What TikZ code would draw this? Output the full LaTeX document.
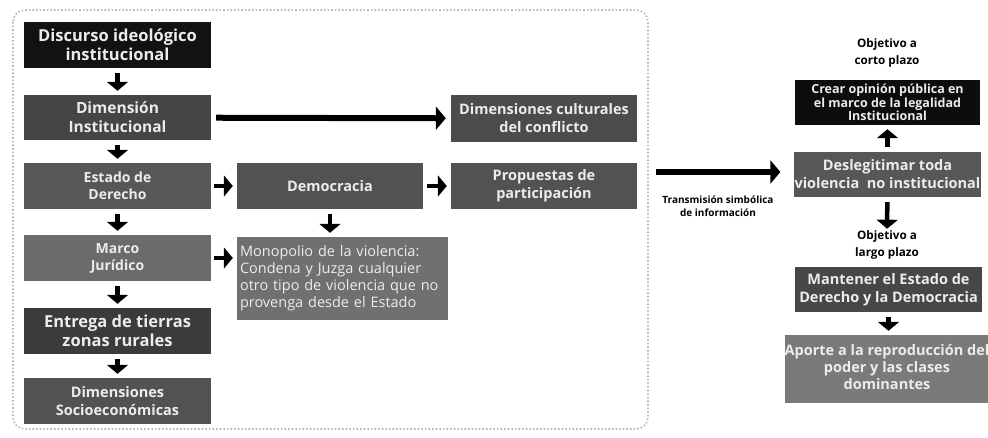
\documentclass[tikz,border=0pt]{standalone}
\usepackage{fontspec}
\setmainfont{Open Sans}
\usetikzlibrary{arrows.meta,positioning}
\definecolor{txt}{HTML}{ECECEC}
\newcommand{\fs}[2]{\fontsize{#1}{#2}\selectfont}
\tikzset{
  bx/.style={rectangle, text=txt, font=\bfseries, align=center, inner sep=1pt, draw=none, minimum width=187pt, minimum height=46pt},
  arr/.style={line width=4.5pt, -{Triangle[width=21pt,length=9pt]}, shorten <=5pt, shorten >=4pt},
  bigarr/.style={line width=6pt, -{Triangle[width=23pt,length=10pt]}},
  lbl/.style={font=\bfseries, text=black, align=center, inner sep=0pt}
}
\begin{document}
\begin{tikzpicture}[x=1pt,y=-1pt]
\useasboundingbox (0,0) rectangle (988,437);
\draw[gray!55, line width=1.6pt, dotted, rounded corners=12pt] (13,10) rectangle (648,429);
% left column
\node[bx, fill=black!93, font=\bfseries\fs{16.5}{19}] (disc) at (117.5,45) {Discurso ideológico\\institucional};
\node[bx, fill=black!73, font=\bfseries\fs{15.5}{19}, minimum height=45pt] (dimi) at (117.5,117.5) {Dimensión\\Institucional};
\node[bx, fill=black!66, font=\bfseries\fs{14}{17}] (est) at (117.5,186) {Estado de\\Derecho};
\node[bx, fill=black!58, font=\bfseries\fs{14}{17}] (marco) at (117.5,258) {Marco\\Jurídico};
\node[bx, fill=black!77, font=\bfseries\fs{16.5}{19}] (entr) at (117.5,331) {Entrega de tierras\\zonas rurales};
\node[bx, fill=black!68, font=\bfseries\fs{14.5}{18}] (dsoc) at (117.5,401) {Dimensiones\\Socioeconómicas};
% middle
\node[bx, fill=black!68, font=\bfseries\fs{14.5}{17}, minimum width=186pt] (demo) at (330,186) {Democracia};
\node[bx, fill=black!56, font=\fs{14.5}{17}, minimum width=211pt, minimum height=83pt, align=left, text width=205pt] (mono) at (342.5,278.5) {Monopolio de la violencia:\\Condena y Juzga cualquier\\otro tipo de violencia que no\\provenga desde el Estado};
\node[bx, fill=black!70, font=\bfseries\fs{14.5}{18}, minimum width=186pt, minimum height=47pt] (cult) at (544,118.5) {Dimensiones culturales\\del conflicto};
\node[bx, fill=black!68, font=\bfseries\fs{14.5}{18}, minimum width=186pt] (prop) at (544,186) {Propuestas de\\participación};
% right
\node[lbl, font=\bfseries\fs{11.7}{16.5}] (obc) at (887,53) {Objetivo a\\corto plazo};
\node[bx, fill=black!95, font=\bfseries\fs{12.5}{13.5}, minimum width=185pt, minimum height=45pt] (crear) at (887.5,102.5) {Crear opinión pública en\\el marco de la legalidad\\Institucional};
\node[bx, fill=black!66, font=\bfseries\fs{14.5}{18}, minimum width=185pt, minimum height=45pt] (desl) at (887.5,174.5) {Deslegitimar toda\\violencia\ \ no institucional};
\node[lbl, font=\bfseries\fs{11.7}{16.5}] (obl) at (887,245) {Objetivo a\\largo plazo};
\node[bx, fill=black!72, font=\bfseries\fs{14.5}{18}, minimum width=187pt, minimum height=45pt] (mant) at (888.5,289.5) {Mantener el Estado de\\Derecho y la Democracia};
\node[bx, fill=black!52, minimum width=215pt, minimum height=68pt] (aport) at (892.5,369) {};
\node[lbl, text=txt, font=\bfseries\fs{14.5}{17}] (aptxt) at (887,367) {Aporte a la reproducción del\\poder y las clases\\dominantes};
\coordinate (ts) at (656,172);
\node[lbl, font=\bfseries\fs{10}{12.5}] (trans) at (718,206) {Transmisión simbólica\\de información};
% arrows
\draw[arr] (disc) -- (dimi);
\draw[arr] (dimi) -- (est);
\draw[arr] (est) -- (marco);
\draw[arr] (marco) -- (entr);
\draw[arr] (entr) -- (dsoc);
\draw[bigarr, shorten <=5pt, shorten >=5pt] (dimi) -- (cult);
\draw[arr, shorten <=3pt] (est) -- (demo);
\draw[arr, shorten <=4pt] (demo) -- (prop);
\draw[arr] (demo.south) -- (demo.south |- mono.north);
\draw[arr, shorten <=3pt] (marco.east) -- (marco.east -| mono.west);
\draw[bigarr, shorten >=13pt] (ts) -- (ts -| desl.west);
\draw[arr] (desl) -- (crear);
\draw[arr, shorten >=2pt] (desl) -- (obl);
\draw[arr] (mant) -- (mant |- aport.north);
\end{tikzpicture}
\end{document}
